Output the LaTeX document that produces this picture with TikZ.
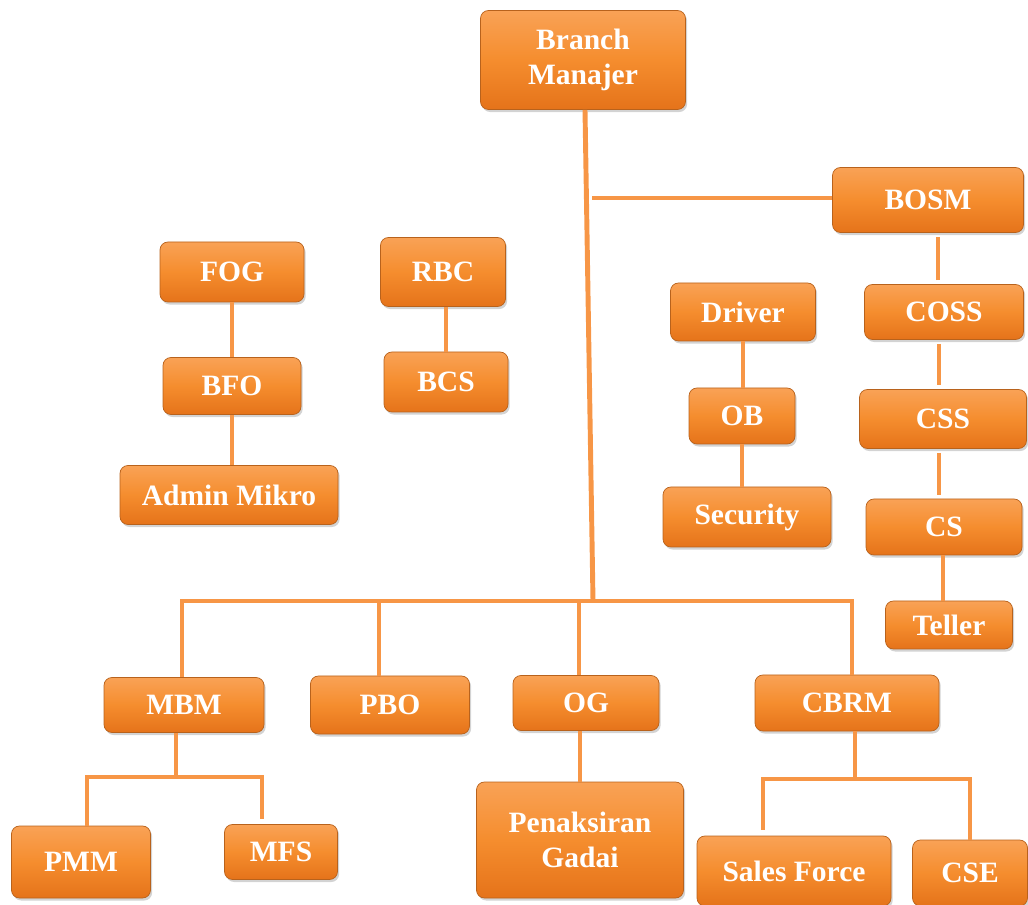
\documentclass[tikz,border=0pt]{standalone}
\usepackage{fontspec}
\setmainfont{Liberation Serif}
\usepackage{tikz}
\usetikzlibrary{calc,shadows}
\definecolor{orgline}{HTML}{F79646}
\definecolor{orgtop}{HTML}{F9A256}
\definecolor{orgmid}{HTML}{F58D2E}
\definecolor{orgbot}{HTML}{E5731A}
\definecolor{orgedge}{HTML}{B8621C}

\begin{document}
\begin{tikzpicture}[x=0.025cm, y=-0.025cm,
	orgbox/.style={draw=orgedge, line width=0.5pt, rounded corners=0.2cm,
		top color=orgtop, bottom color=orgbot, middle color=orgmid,
		drop shadow={shadow xshift=1.2pt, shadow yshift=-1.8pt, opacity=0.35},
		text=white, font=\fontsize{21}{25}\selectfont\bfseries, align=center, inner sep=0pt},
	link/.style={draw=orgline, line width=3.5pt}]
		%%%%% START %%%%%
		
		\useasboundingbox (0, 0) rectangle (1028, 905);
		
		\node[orgbox, minimum width=205*0.025cm, minimum height=99*0.025cm] (bm) at (583, 60) {Branch\\Manajer};
		\node[orgbox, minimum width=191*0.025cm, minimum height=65*0.025cm] (bosm) at (928, 200) {BOSM};
		
		\node[orgbox, minimum width=144*0.025cm, minimum height=60*0.025cm] (fog) at (232, 272) {FOG};
		\node[orgbox, minimum width=138*0.025cm, minimum height=57*0.025cm] (bfo) at (232, 386) {BFO};
		\node[orgbox, minimum width=218*0.025cm, minimum height=59*0.025cm] (admin) at (229, 495) {Admin Mikro};
		
		\node[orgbox, minimum width=125*0.025cm, minimum height=69*0.025cm] (rbc) at (443, 272) {RBC};
		\node[orgbox, minimum width=124*0.025cm, minimum height=60*0.025cm] (bcs) at (446, 382) {BCS};
		
		\node[orgbox, minimum width=145*0.025cm, minimum height=58*0.025cm] (driver) at (743, 312) {Driver};
		\node[orgbox, minimum width=106*0.025cm, minimum height=56*0.025cm] (ob) at (742, 416) {OB};
		\node[orgbox, minimum width=168*0.025cm, minimum height=60*0.025cm] (security) at (747, 517) {Security};
		
		\node[orgbox, minimum width=159*0.025cm, minimum height=55*0.025cm] (coss) at (944, 312) {COSS};
		\node[orgbox, minimum width=167*0.025cm, minimum height=59*0.025cm] (css) at (943, 419) {CSS};
		\node[orgbox, minimum width=156*0.025cm, minimum height=56*0.025cm] (cs) at (944, 527) {CS};
		\node[orgbox, minimum width=127*0.025cm, minimum height=48*0.025cm] (teller) at (949, 625) {Teller};
		
		\node[orgbox, minimum width=160*0.025cm, minimum height=55*0.025cm] (mbm) at (184, 705) {MBM};
		\node[orgbox, minimum width=159*0.025cm, minimum height=58*0.025cm] (pbo) at (390, 705) {PBO};
		\node[orgbox, minimum width=146*0.025cm, minimum height=55*0.025cm] (og) at (586, 703) {OG};
		\node[orgbox, minimum width=184*0.025cm, minimum height=56*0.025cm] (cbrm) at (847, 703) {CBRM};
		
		\node[orgbox, minimum width=139*0.025cm, minimum height=72*0.025cm] (pmm) at (81, 862) {PMM};
		\node[orgbox, minimum width=113*0.025cm, minimum height=55*0.025cm] (mfs) at (281, 852) {MFS};
		\node[orgbox, minimum width=207*0.025cm, minimum height=116*0.025cm] (gadai) at (580, 840) {Penaksiran\\Gadai};
		\node[orgbox, minimum width=194*0.025cm, minimum height=70*0.025cm] (sales) at (794, 871) {Sales Force};
		\node[orgbox, minimum width=115*0.025cm, minimum height=66*0.025cm] (cse) at (970, 873) {CSE};
		
		% trunk and bus
		\coordinate (trunk) at (593, 601);
		\coordinate (bosmj) at (592, 198);
		\coordinate (busr) at (852, 601);
		\draw[link] ($(bm.south)+(2,0)$) -- (trunk);
		\draw[link] (bosmj) -- (bosm.west |- bosmj);
		\draw[link] ($(mbm.north)+(-2,0)$) |- (busr) -- (busr |- cbrm.north);
		\draw[link] ($(pbo.north)+(-11,0)$) -- ($(pbo.north |- trunk)+(-11,0)$);
		\draw[link] ($(og.north)+(-7,0)$) -- ($(og.north |- trunk)+(-7,0)$);
		
		% left columns
		\draw[link] (fog.south) -- (bfo.north);
		\draw[link] (bfo.south) -- (bfo.south |- admin.north);
		\draw[link] (bcs.north |- rbc.south) -- (bcs.north);
		
		% right columns
		\draw[link] (driver.south) -- (driver.south |- ob.north);
		\draw[link] (ob.south |- security.north) -- (ob.south);
		\draw[link] ($(coss.north)+(-6,-4)$) -- ($(coss.north |- bosm.south)+(-6,4)$);
		\draw[link] ($(coss.south)+(-5,4)$) -- ($(coss.south |- css.north)+(-5,-4)$);
		\draw[link] ($(css.south)+(-4,4)$) -- ($(css.south |- cs.north)+(-4,-4)$);
		\draw[link] ($(cs.south)+(-1,0)$) -- ($(cs.south |- teller.north)+(-1,0)$);
		
		% MBM group
		\coordinate (mbmj) at (176, 777);
		\draw[link] ($(mbm.south)+(-8,0)$) -- (mbmj);
		\draw[link] ($(pmm.north)+(6,0)$) |- (mbmj) -| ($(mfs.north)+(-19,-5)$);
		
		% OG group
		\draw[link] (gadai.north |- og.south) -- (gadai.north);
		
		% CBRM group
		\coordinate (cbrmj) at (855, 779);
		\draw[link] ($(cbrm.south)+(8,0)$) -- (cbrmj);
		\draw[link] ($(sales.north)+(-31,-6)$) |- (cbrmj) -| (cse.north);
		
		%%%%% END %%%%%
	\end{tikzpicture}
\end{document}
